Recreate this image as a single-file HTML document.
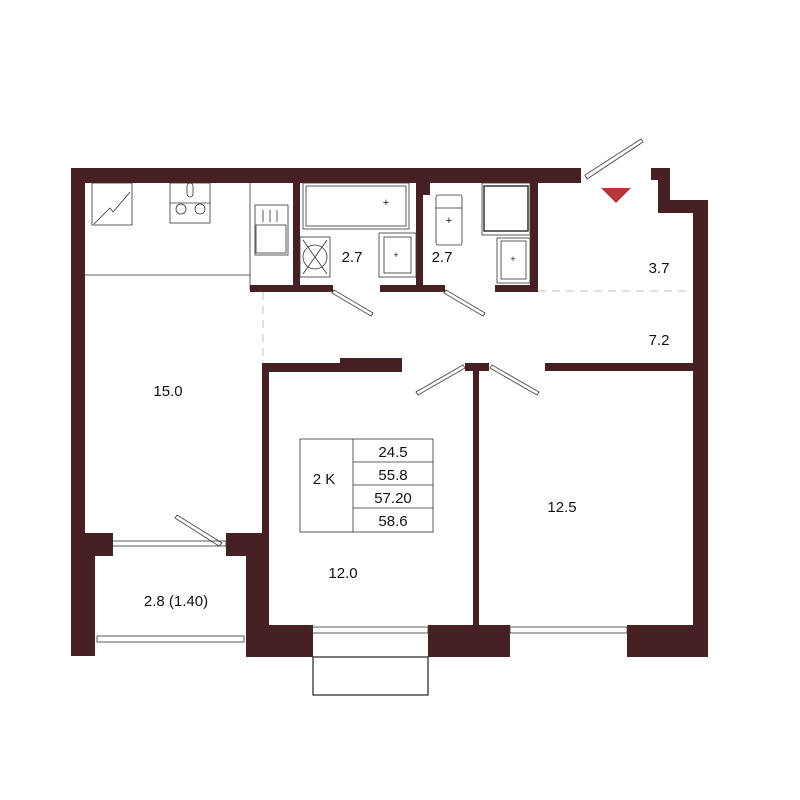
<!DOCTYPE html>
<html><head><meta charset="utf-8"><style>
html,body{margin:0;padding:0;background:#fff}
svg{display:block}
text{font-family:"Liberation Sans",sans-serif;font-size:15px;fill:#111;text-anchor:middle}
</style></head><body>
<svg width="800" height="800" viewBox="0 0 800 800" xmlns="http://www.w3.org/2000/svg">
<g fill="#472023">
<rect x="71" y="168" width="510" height="15"/>
<rect x="71" y="168" width="14" height="488"/>
<rect x="71" y="533" width="39" height="12"/>
<rect x="71" y="533" width="42" height="23"/>
<rect x="71" y="533" width="24" height="123"/>
<rect x="226" y="533" width="43" height="23"/>
<rect x="246" y="533" width="23" height="123"/>
<rect x="262" y="363" width="7" height="262"/>
<polygon points="651,168 670,168 670,200 708,200 708,657 693,657 693,213 658,213 658,180 651,180"/>
<rect x="246" y="625" width="67" height="32"/>
<rect x="428" y="625" width="82" height="32"/>
<rect x="627" y="625" width="81" height="32"/>
<rect x="293" y="183" width="7" height="109"/>
<rect x="250" y="285" width="83" height="7"/>
<rect x="380" y="285" width="43" height="7"/>
<rect x="416" y="183" width="7" height="109"/>
<rect x="423" y="183" width="7" height="12"/>
<rect x="423" y="285" width="22" height="7"/>
<rect x="495" y="285" width="43" height="7"/>
<rect x="530" y="183" width="8" height="109"/>
<rect x="262" y="363" width="140" height="9"/>
<rect x="340" y="358" width="62" height="7"/>
<rect x="465" y="363" width="24" height="8"/>
<rect x="473" y="363" width="6" height="262"/>
<rect x="545" y="363" width="148" height="8"/>
</g>
<g stroke="#ccc" stroke-width="1.2" stroke-dasharray="8,6" fill="none">
<line x1="538" y1="291" x2="690" y2="291"/>
<line x1="263" y1="292" x2="263" y2="362"/>
</g>
<g stroke="#555" stroke-width="1" fill="#fff">
<polygon points="585,175 641,139 643,142 587,179"/>
<polygon points="334,290 373,313 371,316 332,293"/>
<polygon points="446,290 485,313 483,316 444,293"/>
<polygon points="465,368 418,395 416,392 463,365"/>
<polygon points="490,368 537,395 539,392 492,365"/>
<polygon points="177,515 222,543 219,546 175,518"/>
</g>
<g stroke="#333" stroke-width="0.8" fill="none">
<line x1="85" y1="275" x2="250" y2="275"/>
<line x1="250" y1="183" x2="250" y2="290"/>
<rect x="92" y="183" width="40" height="42"/>
<polyline points="94,224 110,208 113,212 130,192"/>
<rect x="170" y="183" width="40" height="40"/>
<line x1="170" y1="203" x2="210" y2="203"/>
<circle cx="181" cy="209" r="5"/><circle cx="200" cy="209" r="5"/>
<rect x="187" y="183" width="6" height="14" rx="3"/>
<rect x="255" y="205" width="33" height="50"/>
<rect x="256" y="225" width="30" height="28"/>
<line x1="263" y1="210" x2="263" y2="222"/><line x1="270" y1="210" x2="270" y2="222"/><line x1="277" y1="210" x2="277" y2="222"/>
<rect x="306" y="186" width="100" height="40"/>
<rect x="303" y="183" width="106" height="46"/>
<rect x="300" y="237" width="30" height="40"/>
<circle cx="315" cy="257" r="12"/>
<line x1="303" y1="240" x2="327" y2="274"/><line x1="327" y1="240" x2="303" y2="274"/>
<rect x="379" y="233" width="37" height="44"/>
<rect x="384" y="237" width="27" height="36"/>
<rect x="436" y="195" width="26" height="50" rx="2"/>
<line x1="436" y1="208" x2="462" y2="208"/>
<rect x="482" y="183" width="48" height="52"/>
<rect x="484" y="186" width="44" height="45" stroke-width="1.5"/>
<rect x="497" y="238" width="33" height="45"/>
<rect x="501" y="241" width="25" height="38"/>
<rect x="300" y="439" width="133" height="93"/>
<line x1="353" y1="439" x2="353" y2="532"/>
<line x1="353" y1="462" x2="433" y2="462"/>
<line x1="353" y1="485" x2="433" y2="485"/>
<line x1="353" y1="508" x2="433" y2="508"/>
<rect x="313" y="657" width="115" height="38" stroke="#222" stroke-width="1.2"/>
<rect x="112" y="541" width="114" height="5"/>
<rect x="97" y="636" width="147" height="6"/>
<rect x="310" y="627" width="118" height="6"/>
<rect x="510" y="627" width="117" height="6"/>
</g>
<text x="386" y="206" style="font-size:11px">+</text>
<text x="396" y="258" style="font-size:9px">+</text>
<text x="449" y="224" style="font-size:11px">+</text>
<text x="513" y="262" style="font-size:9px">+</text>
<polygon points="601,188 631,188 616,203" fill="#b5373c"/>
<text x="168" y="396">15.0</text>
<text x="352" y="262">2.7</text>
<text x="442" y="262">2.7</text>
<text x="659" y="273">3.7</text>
<text x="659" y="345">7.2</text>
<text x="324" y="484">2 K</text>
<text x="393" y="457">24.5</text>
<text x="393" y="480">55.8</text>
<text x="393" y="503">57.20</text>
<text x="393" y="526">58.6</text>
<text x="343" y="578">12.0</text>
<text x="562" y="512">12.5</text>
<text x="176" y="606">2.8 (1.40)</text>
</svg>
</body></html>
